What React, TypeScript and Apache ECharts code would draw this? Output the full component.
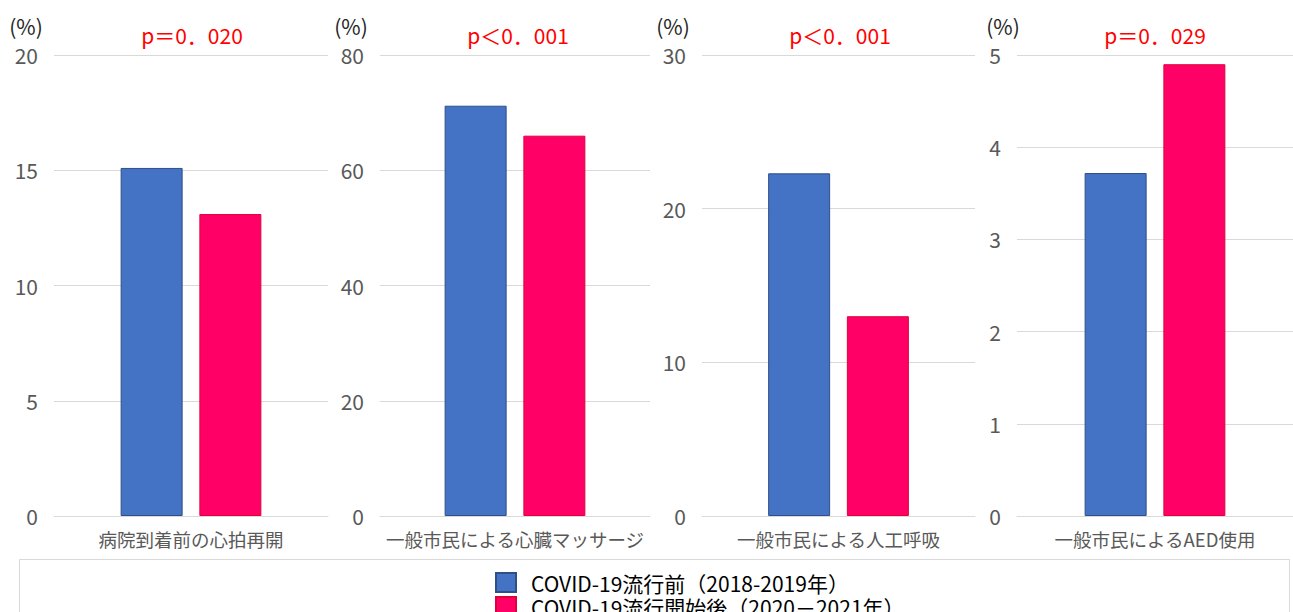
import React, { useEffect, useRef } from "react";
import * as echarts from "echarts";

const panelCategories = ["病院到着前の心拍再開", "一般市民による心臓マッサージ", "一般市民による人工呼吸", "一般市民によるAED使用"];
const beforeValues = [15.1, 71.2, 22.3, 3.72];
const afterValues = [13.1, 66.0, 13.0, 4.9];
const axisMax = [20, 80, 30, 5];
const axisInterval = [5, 20, 10, 1];
const pValues = ["p＝0．020", "p＜0．001", "p＜0．001", "p＝0．029"];
const seriesNames = ["COVID-19流行前（2018-2019年）", "COVID-19流行開始後（2020－2021年）"];
const unitLabel = "(%)";

const gridLefts = [54, 380, 702, 1017];
const gridWidths = [274, 270, 273, 286];
const pCenters = [192, 518, 840, 1155];
const unitX = [26, 351, 673, 1003];

const FONT = "'Noto Sans CJK JP', 'Noto Sans', sans-serif";

export default function App() {
  const ref = useRef<HTMLDivElement>(null);
  useEffect(() => {
    if (!ref.current) return;
    const chart = echarts.init(ref.current, null, { renderer: "svg" });
    const grids = gridLefts.map((l, i) => ({ left: l, width: gridWidths[i], top: 55, height: 461 }));
    const xAxis = panelCategories.map((c, i) => ({
      type: "category",
      gridIndex: i,
      data: [c],
      axisLine: { lineStyle: { color: "#d9d9d9", width: 1 } },
      axisTick: { show: false },
      axisLabel: { color: "#595959", fontSize: 18.5, margin: 14, fontFamily: FONT },
    }));
    const yAxis = axisMax.map((m, i) => ({
      type: "value",
      gridIndex: i,
      min: 0,
      max: m,
      interval: axisInterval[i],
      axisLine: { show: false },
      axisTick: { show: false },
      splitLine: { lineStyle: { color: "#d9d9d9", width: 1 } },
      axisLabel: { color: "#595959", fontSize: 21, margin: 16, fontFamily: FONT },
    }));
    const series: any[] = [];
    panelCategories.forEach((_, i) => {
      series.push({
        type: "bar",
        name: seriesNames[0],
        xAxisIndex: i,
        yAxisIndex: i,
        data: [beforeValues[i]],
        barWidth: 62,
        barGap: "27%",
        itemStyle: { color: "#4472C4", borderColor: "#2F4F86", borderWidth: 1 },
      });
      series.push({
        type: "bar",
        name: seriesNames[1],
        xAxisIndex: i,
        yAxisIndex: i,
        data: [afterValues[i]],
        barWidth: 62,
        barGap: "27%",
        itemStyle: { color: "#FF0066", borderColor: "#E0003A", borderWidth: 1 },
      });
    });
    const titles = pValues.map((p, i) => ({
      text: p,
      left: pCenters[i],
      top: 24,
      textAlign: "center",
      padding: 0,
      textStyle: { color: "#FF0000", fontSize: 21, fontWeight: "normal", fontFamily: FONT },
    }));
    const graphics: any[] = unitX.map((x) => ({
      type: "text",
      x,
      y: 26,
      style: {
        text: unitLabel,
        fill: "#262626",
        fontSize: 21,
        fontFamily: FONT,
        align: "center",
        verticalAlign: "middle",
      },
    }));
    graphics.push({
      type: "rect",
      shape: { x: 19.5, y: 559.5, width: 1270, height: 80 },
      style: { fill: "none", stroke: "#d9d9d9", lineWidth: 1 },
      z: -1,
    });
    chart.setOption({
      animation: false,
      title: titles,
      grid: grids,
      xAxis,
      yAxis,
      series,
      graphic: graphics,
      legend: {
        data: seriesNames,
        orient: "vertical",
        left: 495,
        top: 572,
        height: 200,
        padding: 0,
        itemWidth: 20,
        itemHeight: 19,
        itemGap: 3,
        icon: "rect",
        textStyle: { color: "#000", fontSize: 21, lineHeight: 20, fontFamily: FONT, padding: [0, 0, 0, 10] },
      },
    });
    return () => chart.dispose();
  }, []);
  return (
    <div
      ref={ref}
      style={{ position: "fixed", left: 0, top: 0, width: 1293, height: 612, background: "#fff" }}
    />
  );
}
